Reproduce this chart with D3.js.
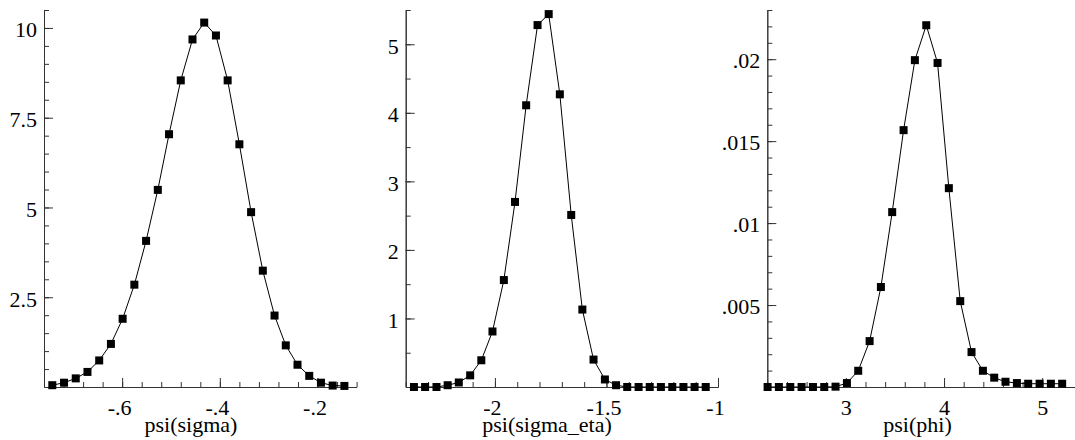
<!DOCTYPE html>
<html>
<head>
<meta charset="utf-8">
<script src="https://cdn.jsdelivr.net/npm/d3@7"></script>
<style>
  body { margin: 0; background: #fff; }
  svg text { font-family: "Liberation Serif", Times, serif; }
</style>
</head>
<body>
<div id="chart"></div>
<script>
// psi(sigma)
var sigmaX = [-0.743, -0.719, -0.695, -0.671, -0.647, -0.623, -0.599, -0.575, -0.551, -0.527, -0.504, -0.480, -0.456,
              -0.432, -0.408, -0.384, -0.360, -0.336, -0.312, -0.288, -0.265, -0.241, -0.217, -0.193, -0.169, -0.145];
var sigmaY = [0.05, 0.12, 0.24, 0.42, 0.74, 1.20, 1.90, 2.85, 4.07, 5.49, 7.04, 8.54, 9.68,
              10.15, 9.79, 8.54, 6.76, 4.87, 3.24, 1.99, 1.16, 0.62, 0.31, 0.12, 0.04, 0.03];

// psi(sigma_eta)
var etaX = [-2.363, -2.313, -2.262, -2.212, -2.162, -2.111, -2.061, -2.011, -1.960, -1.910, -1.860, -1.809, -1.759, -1.709,
            -1.658, -1.608, -1.558, -1.507, -1.457, -1.407, -1.356, -1.306, -1.256, -1.205, -1.155, -1.105, -1.055];
var etaY = [0, 0, 0, 0.026, 0.066, 0.17, 0.39, 0.81, 1.56, 2.70, 4.11, 5.28, 5.44, 4.27,
            2.51, 1.13, 0.40, 0.11, 0.026, 0, 0, 0, 0, 0, 0, 0, 0];

// psi(phi)
var phiX = [2.203, 2.318, 2.434, 2.549, 2.665, 2.780, 2.895, 3.011, 3.126, 3.242, 3.357, 3.472, 3.588, 3.703,
            3.819, 3.934, 4.049, 4.165, 4.280, 4.396, 4.511, 4.626, 4.742, 4.857, 4.973, 5.088, 5.203];
var phiY = [0, 0, 0, 0, 0, 0, 0.00002, 0.00024, 0.00099, 0.0028, 0.0061, 0.01067, 0.01567, 0.01994,
            0.02207, 0.01977, 0.01213, 0.00524, 0.00213, 0.00099, 0.00057, 0.00032, 0.00024, 0.0002, 0.0002, 0.0002, 0.0002];

// tick values and labels
var sigmaXTicks = [-0.6, -0.4, -0.2],  sigmaXLabels = ["-.6", "-.4", "-.2"];
var sigmaYTicks = [2.5, 5, 7.5, 10],   sigmaYLabels = ["2.5", "5", "7.5", "10"];
var etaXTicks = [-2, -1.5, -1],        etaXLabels = ["-2", "-1.5", "-1"];
var etaYTicks = [1, 2, 3, 4, 5],       etaYLabels = ["1", "2", "3", "4", "5"];
var phiXTicks = [3, 4, 5],             phiXLabels = ["3", "4", "5"];
var phiYTicks = [0.005, 0.01, 0.015, 0.02], phiYLabels = [".005", ".01", ".015", ".02"];

var titles = ["psi(sigma)", "psi(sigma_eta)", "psi(phi)"];

var width = 1075, height = 440;
var plotTop = 10, plotBottom = 387;
var fontFamily = "'Liberation Serif', Times, serif";

var svg = d3.select("#chart").append("svg")
    .attr("width", width)
    .attr("height", height);

var panels = [
  { x: sigmaX, y: sigmaY, xDomain: [-0.76, -0.12], yDomain: [0, 10.5], left: 44, right: 356.6,
    xMinor: d3.range(-0.76, -0.1199, 0.04), yMinor: d3.range(0.5, 10.51, 0.5),
    xTicks: sigmaXTicks, xLabels: sigmaXLabels, yTicks: sigmaYTicks, yLabels: sigmaYLabels,
    title: titles[0], titleX: 191 },
  { x: etaX, y: etaY, xDomain: [-2.4, -1], yDomain: [0, 5.5], left: 405.7, right: 718,
    xMinor: d3.range(-2.4, -0.999, 0.1), yMinor: d3.range(0.5, 5.51, 0.5),
    xTicks: etaXTicks, xLabels: etaXLabels, yTicks: etaYTicks, yLabels: etaYLabels,
    title: titles[1], titleX: 547 },
  { x: phiX, y: phiY, xDomain: [2.2, 5.4], yDomain: [0, 0.023], left: 767.3, right: 1081.5,
    xMinor: d3.range(2.2, 5.41, 0.2), yMinor: d3.range(0.001, 0.02301, 0.001),
    xTicks: phiXTicks, xLabels: phiXLabels, yTicks: phiYTicks, yLabels: phiYLabels,
    title: titles[2], titleX: 917.5 }
];

panels.forEach(function(p) {
    var x = d3.scaleLinear().domain(p.xDomain).range([p.left, p.right]);
    var y = d3.scaleLinear().domain(p.yDomain).range([plotBottom, plotTop]);
    var g = svg.append("g");

    // minor ticks
    g.append("g")
        .attr("transform", "translate(0," + plotBottom + ")")
        .call(d3.axisBottom(x).tickValues(p.xMinor).tickSize(-5).tickSizeOuter(0).tickFormat(""));
    g.append("g")
        .attr("transform", "translate(" + p.left + ",0)")
        .call(d3.axisLeft(y).tickValues(p.yMinor).tickSize(-5).tickSizeOuter(0).tickFormat(""));

    // major ticks with labels
    var xa = g.append("g")
        .attr("transform", "translate(0," + plotBottom + ")")
        .call(d3.axisBottom(x).tickValues(p.xTicks).tickSize(-9).tickSizeOuter(0)
            .tickFormat(function(d, i) { return p.xLabels[i]; }));
    // negative labels sit a little left of their tick in the original
    xa.selectAll("text").attr("y", 28).attr("dy", null)
        .attr("dx", function(d) { return d < 0 ? -3 : 0; });

    var ya = g.append("g")
        .attr("transform", "translate(" + p.left + ",0)")
        .call(d3.axisLeft(y).tickValues(p.yTicks).tickSize(-9).tickSizeOuter(0)
            .tickFormat(function(d, i) { return p.yLabels[i]; }));
    ya.selectAll("text").attr("x", -7).attr("dy", "0.4em");

    g.selectAll("g").attr("font-family", fontFamily).attr("font-size", 22);
    g.selectAll(".domain, .tick line").attr("stroke", "#333");
    g.selectAll(".tick text").attr("fill", "#000");

    var pts = p.x.map(function(v, i) { return [v, p.y[i]]; });

    g.append("path")
        .datum(pts)
        .attr("fill", "none")
        .attr("stroke", "#000")
        .attr("stroke-width", 1)
        .attr("d", d3.line().x(function(d) { return x(d[0]); }).y(function(d) { return y(d[1]); }));

    g.selectAll("rect.pt")
        .data(pts)
        .enter().append("rect")
        .attr("class", "pt")
        .attr("x", function(d) { return x(d[0]) - 4; })
        .attr("y", function(d) { return y(d[1]) - 4; })
        .attr("width", 8)
        .attr("height", 8)
        .attr("fill", "#000");

    g.append("text")
        .attr("x", p.titleX)
        .attr("y", 432)
        .attr("text-anchor", "middle")
        .attr("font-family", fontFamily)
        .attr("font-size", 22)
        .text(p.title);
});
</script>
</body>
</html>
